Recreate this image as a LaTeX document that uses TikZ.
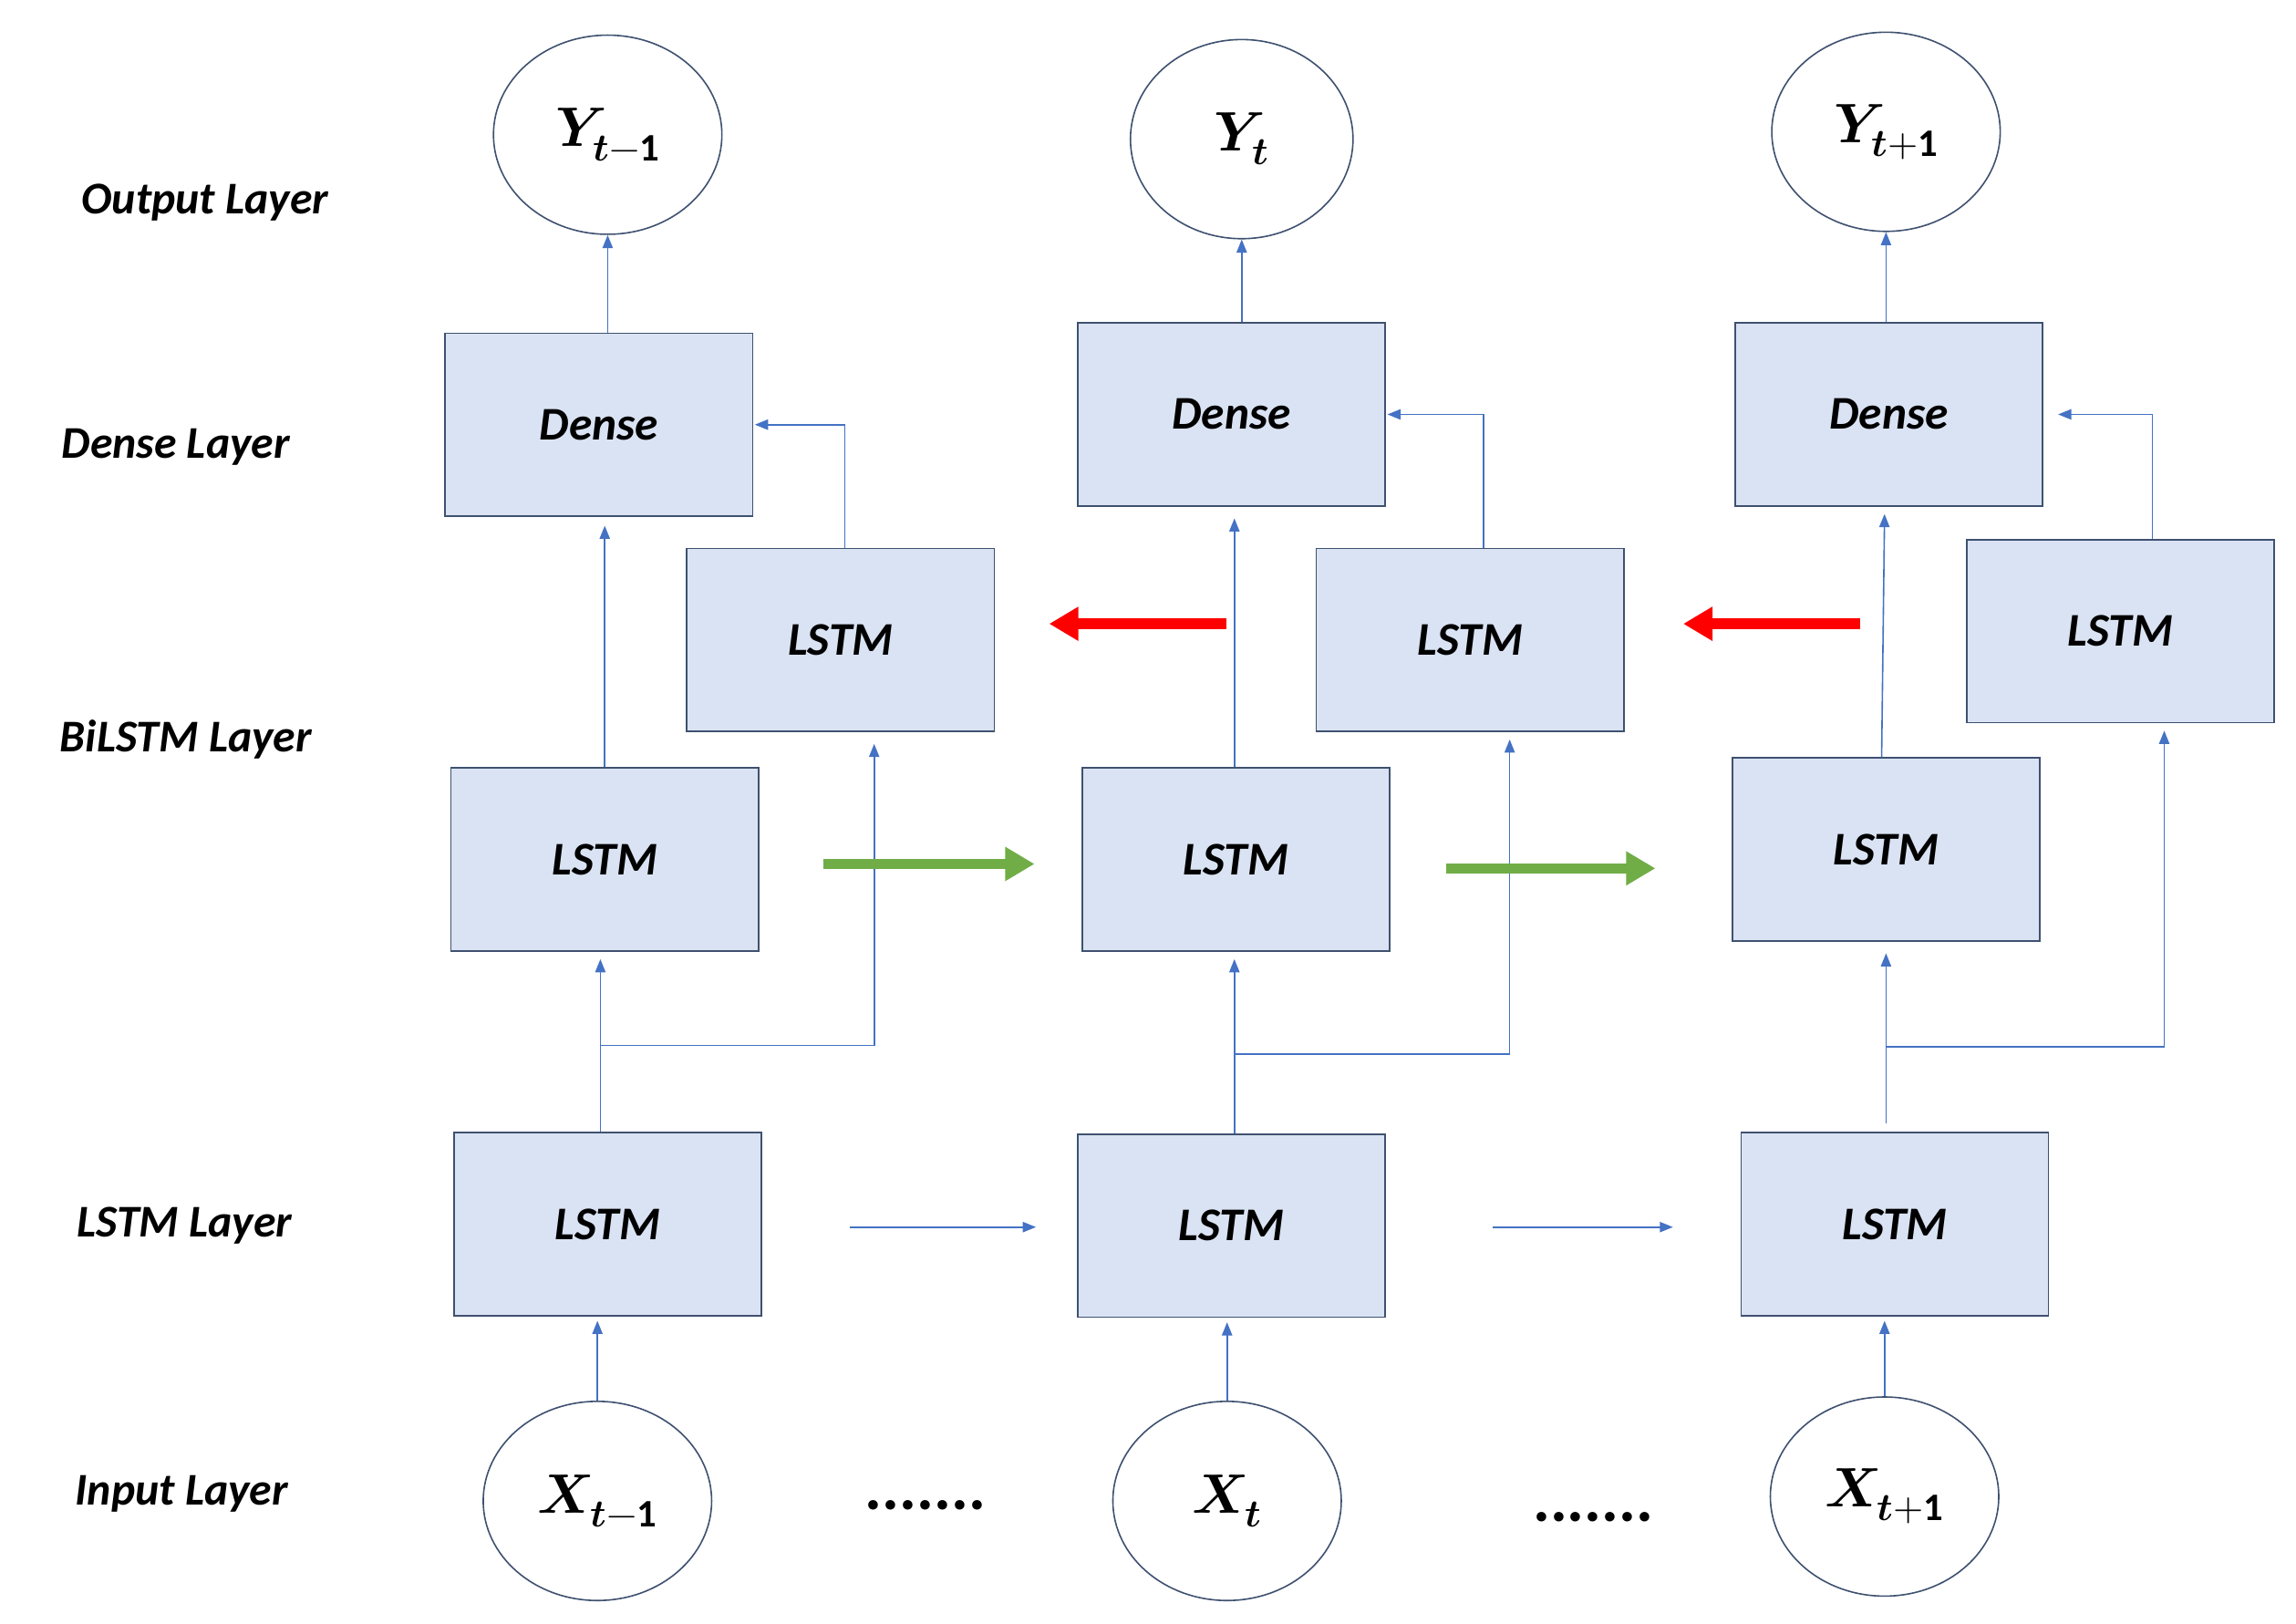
\documentclass[tikz,border=0pt]{standalone}
\usepackage{fontspec}
\setmainfont{Carlito}
\usepackage{unicode-math}
\setmathfont{Latin Modern Math}
\usetikzlibrary{arrows.meta,calc,shapes.geometric}
\definecolor{boxfill}{HTML}{DAE3F3}
\definecolor{boxline}{HTML}{3F5170}
\definecolor{arr}{HTML}{4472C4}
\definecolor{gr}{HTML}{70AD47}
\begin{document}
\begin{tikzpicture}[x=1pt,y=-1pt,
  box/.style={draw=boxline,fill=boxfill,line width=1pt,minimum width=210pt,minimum height=125pt,inner sep=0,font=\fontsize{32}{34}\selectfont\bfseries\itshape},
  circ/.style={draw=boxline,ellipse,line width=1pt,minimum width=156pt,minimum height=136pt,inner sep=0,font=\fontsize{38}{40}\selectfont},
  lab/.style={font=\fontsize{31}{33}\selectfont\bfseries\itshape},
  ar/.style={draw=arr,line width=1pt,-{Triangle[length=9pt,width=7pt]}},
  ln/.style={draw=arr,line width=1pt},
  big/.style={line width=7pt,-{Triangle[length=20pt,width=22pt]}}]
\useasboundingbox (0,0) rectangle (1568,1109);
% labels
\node[lab] (lo) at (140,138) {Output Layer};
\node[lab] (ld) at (120,305) {Dense Layer};
\node[lab] (lb) at (127,505) {BiLSTM Layer};
\node[lab] (ll) at (126,837) {LSTM Layer};
\node[lab] (li) at (124,1020) {Input Layer};
% column 1
\node[circ] (y1) at (415,92) {$\symbfit{Y}_{\symbfit{t}-\mathbf{1}}$};
\node[box] (d1) at (409,290) {Dense};
\node[box] (u1) at (574,437) {LSTM};
\node[box] (b1) at (413,587) {LSTM};
\node[box] (l1) at (415,836) {LSTM};
\node[circ] (x1) at (408,1025) {$\symbfit{X}_{\symbfit{t}-\mathbf{1}}$};
% column 2
\node[circ,minimum width=152pt] (y2) at (848,95) {$\symbfit{Y}_{\symbfit{t}}$};
\node[box] (d2) at (841,283) {Dense};
\node[box] (u2) at (1004,437) {LSTM};
\node[box] (b2) at (844,587) {LSTM};
\node[box] (l2) at (841,837) {LSTM};
\node[circ] (x2) at (838,1025) {$\symbfit{X}_{\symbfit{t}}$};
% column 3
\node[circ] (y3) at (1288,90) {$\symbfit{Y}_{\symbfit{t}+\mathbf{1}}$};
\node[box] (d3) at (1290,283) {Dense};
\node[box] (u3) at (1448,431) {LSTM};
\node[box] (b3) at (1288,580) {LSTM};
\node[box] (l3) at (1294,836) {LSTM};
\node[circ] (x3) at (1287,1022) {$\symbfit{X}_{\symbfit{t}+\mathbf{1}}$};
% dots
\node[font=\fontsize{44}{46}\selectfont\bfseries] (dt1) at (632,1028) {.......};
\node[font=\fontsize{44}{46}\selectfont\bfseries] (dt2) at (1088,1036) {.......};
% junctions
\coordinate (j1) at (410,714);
\coordinate (j2) at (843,720);
\coordinate (j3) at (1288,715);
% col1 connectors
\draw[ar] (x1.north) -- ([yshift=-3]l1.south -| x1.north);
\draw[ln] (l1.north -| j1) -- (j1);
\draw[ar] (j1) -- ([yshift=-5]b1.south -| j1);
\draw[ar] (j1) -| ([xshift=23,yshift=-8]u1.south);
\draw[ar] (b1.north) -- ([yshift=-6]d1.south -| b1.north);
\draw[ar] ([xshift=3]u1.north) |- ([xshift=1]d1.east);
\draw[ar] (d1.north -| y1.south) -- (y1.south);
% col2
\draw[ar] (x2.north) -- ([yshift=-3]l2.south -| x2.north);
\draw[ln] (l2.north -| j2) -- (j2);
\draw[ar] (j2) -- ([yshift=-5]b2.south -| j2);
\draw[ar] (j2) -| ([xshift=27,yshift=-5]u2.south);
\draw[ar] (b2.north -| j2) -- ([yshift=-8]d2.south -| j2);
\draw[ar] ([xshift=9]u2.north) |- ([xshift=1]d2.east);
\draw[ar] (d2.north -| y2.south) -- (y2.south);
% col3
\draw[ar] (x3.north) -- ([yshift=-3]l3.south -| x3.north);
\draw[ln] ([yshift=6]l3.north -| j3) -- (j3);
\draw[ar] (j3) -- ([yshift=-8]b3.south -| j3);
\draw[ar] (j3) -| ([xshift=30,yshift=-5]u3.south);
\draw[ar] ([xshift=-3]b3.north) -- ([xshift=-3,yshift=-5]d3.south);
\draw[ar] ([xshift=22]u3.north) |- ([xshift=10]d3.east);
\draw[ar] (d3.north -| y3.south) -- (y3.south);
% horizontal
\draw[ar] ([xshift=60,yshift=-2]l1.east) -- ([xshift=-28]l2.west |- 0,838);
\draw[ar] ([xshift=73,yshift=-1]l2.east) -- ([xshift=-46]l3.west |- 0,838);
\draw[big,gr] ([xshift=44,yshift=-3]b1.east) -- ([xshift=-32,yshift=-3]b2.west);
\draw[big,gr] ([xshift=38,yshift=-6]b2.east) -- ([xshift=-52,yshift=-13]b3.west);
\draw[big,red] ([xshift=-61,yshift=11]u2.west) -- ([xshift=-182,yshift=11]u2.west);
\draw[big,red] ([xshift=-72,yshift=5]u3.west) -- ([xshift=-193,yshift=5]u3.west);
\end{tikzpicture}
\end{document}
